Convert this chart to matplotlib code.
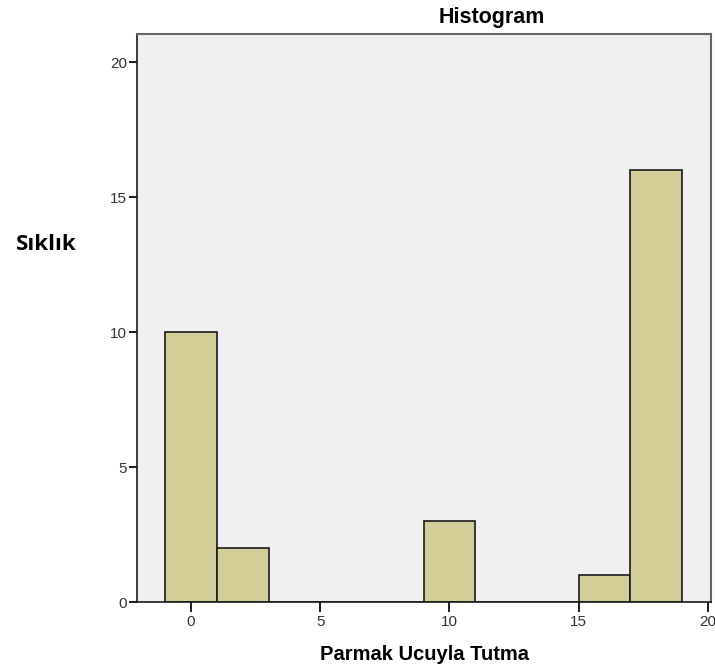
import matplotlib.pyplot as plt

# 数据
bin_edges = [-1, 1, 3, 5, 7, 9, 11, 13, 15, 17, 19]
counts = [10, 2, 0, 0, 0, 3, 0, 0, 1, 16]
x_ticks = [0, 5, 10, 15, 20]
y_ticks = [0, 5, 10, 15, 20]

fig = plt.figure(figsize=(7.15, 6.69), dpi=100)
ax = fig.add_axes([137 / 715, 67 / 669, 574 / 715, 568 / 669])
ax.set_facecolor('#f0f0f0')

lefts = bin_edges[:-1]
widths = [b - a for a, b in zip(bin_edges[:-1], bin_edges[1:])]
ax.bar(lefts, counts, width=widths, align='edge', color='#d3ce97',
       edgecolor='#1a1a1a', linewidth=1.2)

ax.set_xlim(-2.09, 20.12)
ax.set_ylim(0, 21.04)
ax.set_xticks(x_ticks)
ax.set_yticks(y_ticks)
ax.tick_params(axis='x', direction='out', length=7, width=1.4, pad=2,
               labelsize=11, colors='#1a1a1a', labelcolor='#333333')
ax.tick_params(axis='y', direction='out', length=6, width=1.4, pad=1,
               labelsize=11, colors='#1a1a1a', labelcolor='#333333')
for lbl in ax.get_xticklabels() + ax.get_yticklabels():
    lbl.set_fontfamily('Liberation Sans')
for s in ['left', 'bottom']:
    ax.spines[s].set_color('#1a1a1a')
    ax.spines[s].set_linewidth(1.2)
for s in ['top', 'right']:
    ax.spines[s].set_color('#666666')
    ax.spines[s].set_linewidth(1.5)

# 标题与坐标轴标签
fig.text(492 / 715, 1 - 17 / 669, 'Histogram', ha='center', va='center',
         fontsize=15.5, fontweight='bold', family='Liberation Sans')
fig.text(424 / 715, 1 - 654 / 669, 'Parmak Ucuyla Tutma', ha='center',
         va='center', fontsize=14.5, fontweight='bold', family='Liberation Sans')
fig.text(46 / 715, 1 - 245 / 669, 'Sıklık', ha='center', va='center',
         fontsize=16, fontweight='bold', family='Open Sans')

fig.savefig('out.png', dpi=100)
